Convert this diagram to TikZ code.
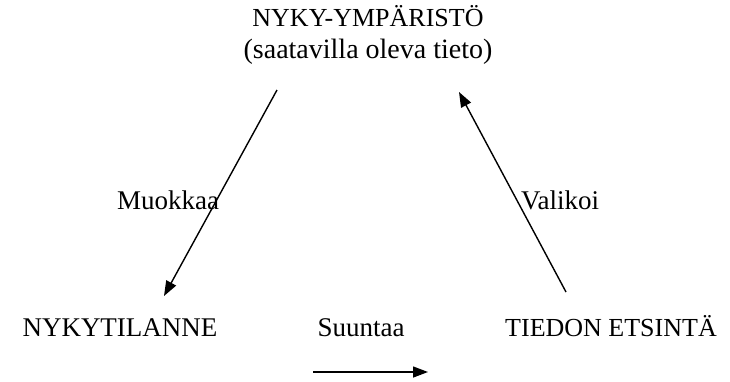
\documentclass[tikz,border=0pt]{standalone}
\usepackage{fontspec}
\setmainfont{Liberation Serif}
\usetikzlibrary{arrows.meta}
\begin{document}
\begin{tikzpicture}[x=1pt,y=-1pt,
  lbl/.style={font=\fontsize{27}{32}\selectfont, inner sep=0pt, anchor=base},
  arr/.style={line width=1.4pt, -{Triangle[length=15pt,width=11pt]}}]
  \useasboundingbox (0,0) rectangle (730,381);
  % concept labels
  \node[lbl, align=center, anchor=north] (env) at (368,5)
    {{\fontsize{26}{32}\selectfont NYKY-YMPÄRISTÖ}\\
     {\fontsize{28}{32}\selectfont (saatavilla oleva tieto)}};
  \node[lbl] (now) at (120,336) {NYKYTILANNE};
  \node[lbl, font=\fontsize{26}{32}\selectfont] (search) at (611,336) {TIEDON ETSINTÄ};
  % action labels
  \node[lbl] (edit) at (168,209) {Muokkaa};
  \node[lbl] (select) at (560,209) {Valikoi};
  \node[lbl] (aim) at (361,336) {Suuntaa};
  % arrow end points
  \coordinate (e1) at (277,90);
  \coordinate (e2) at (164,296);
  \coordinate (s1) at (566,292);
  \coordinate (s2) at (459,92);
  \coordinate (a1) at (313,372);
  \coordinate (a2) at (428,372);
  \draw[arr] (e1) -- (e2);
  \draw[arr] (s1) -- (s2);
  \draw[arr] (a1) -- (a2);
\end{tikzpicture}
\end{document}
